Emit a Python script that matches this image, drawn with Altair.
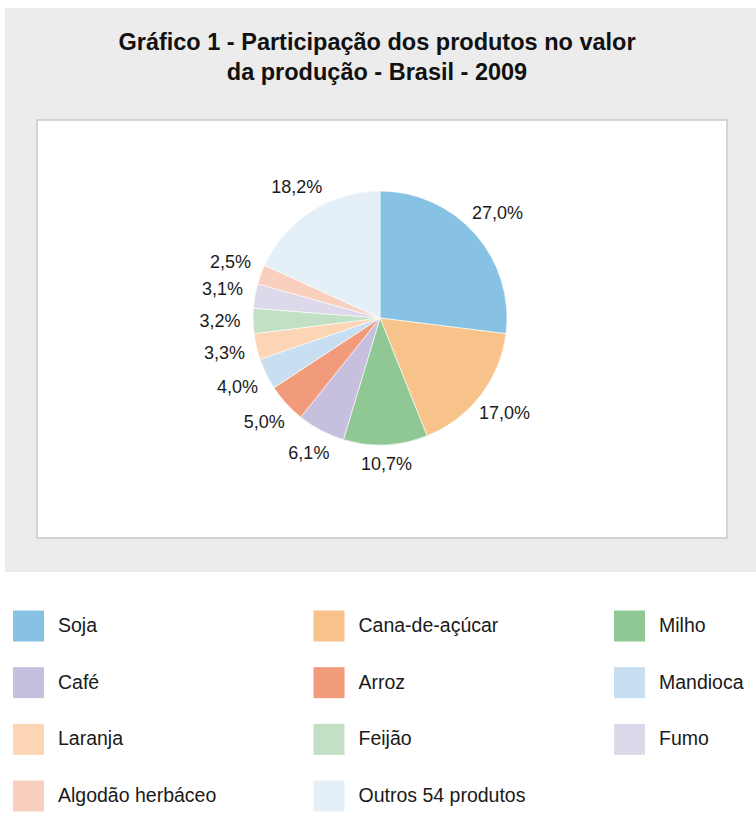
import altair as alt
import pandas as pd

# ---- data ----
produtos = ["Soja", "Cana-de-açúcar", "Milho", "Café", "Arroz", "Mandioca",
            "Laranja", "Feijão", "Fumo", "Algodão herbáceo", "Outros 54 produtos"]
valores = [27.0, 17.0, 10.7, 6.1, 5.0, 4.0, 3.3, 3.2, 3.1, 2.5, 18.2]
cores = ["#87C2E5", "#F8C38A", "#8FC795", "#C6BFDD", "#F29B7B", "#C8DFF2",
         "#FCD6B4", "#C2E0C5", "#DDD9EA", "#F9CFBD", "#E5EFF8"]
titulo = ["Gráfico 1 - Participação dos produtos no valor",
          "da produção - Brasil - 2009"]

rotulos = [f"{v:.1f}".replace(".", ",") + "%" for v in valores]
df = pd.DataFrame({
    "produto": produtos,
    "valor": valores,
    "rotulo": rotulos,
    "ordem": list(range(len(produtos))),
})
leg = pd.DataFrame({
    "produto": produtos,
    "col": [i % 3 for i in range(len(produtos))],
    "row": [i // 3 for i in range(len(produtos))],
})

color = alt.Color("produto:N", scale=alt.Scale(domain=produtos, range=cores), legend=None)

# ---- decoration ----
deco = pd.DataFrame({"k": [0]})
bg = alt.Chart(deco).mark_rect(color="#EBECEB").encode(
    x=alt.value(5), x2=alt.value(756), y=alt.value(8), y2=alt.value(572))
box = alt.Chart(deco).mark_rect(fill="white", stroke="#C9C9C9", strokeWidth=1.5).encode(
    x=alt.value(37), x2=alt.value(727), y=alt.value(120), y2=alt.value(538))
title = alt.Chart(deco).mark_text(
    font="Liberation Sans", fontWeight="bold", fontSize=23.5, lineHeight=30,
    align="center", baseline="alphabetic", color="#111111"
).encode(x=alt.value(377), y=alt.value(50), text=alt.value(titulo))

# ---- pie ----
pie = alt.Chart(df).mark_arc(radius=127, stroke="white", strokeWidth=0.6).encode(
    theta=alt.Theta("valor:Q", stack=True),
    order=alt.Order("ordem:Q", sort="ascending"),
    color=color, x=alt.value(380), y=alt.value(318))

labels = alt.Chart(df).transform_window(
    cum="sum(valor)", sort=[alt.SortField("ordem")], frame=[None, 0]
).transform_joinaggregate(
    total="sum(valor)"
).transform_calculate(
    ang="2*PI*(datum.cum - datum.valor/2)/datum.total",
    lr="147 + 13*abs(sin(datum.ang))",
).mark_text(
    font="Liberation Sans", fontSize=18, color="#1a1a1a", align="center", baseline="middle"
).encode(
    theta=alt.Theta("ang:Q", scale=None),
    radius=alt.Radius("lr:Q", scale=None),
    text="rotulo:N",
    x=alt.value(380), y=alt.value(318),
)

# ---- legend ----
xs = alt.Scale(domain=[0, 2], range=[28.5, 629.5])
ys = alt.Scale(domain=[0, 3], range=[626, 796])
lbase = alt.Chart(leg).encode(
    x=alt.X("col:Q", scale=xs, axis=None),
    y=alt.Y("row:Q", scale=ys, axis=None),
)
squares = lbase.mark_square(size=961, opacity=1).encode(color=color)
ltext = lbase.mark_text(
    font="Liberation Sans", fontSize=19.5, align="left", baseline="middle",
    dx=29.5, color="#1a1a1a"
).encode(text="produto:N")

chart = alt.layer(bg, box, title, pie, labels, squares, ltext).properties(
    width=756, height=818,
    autosize=alt.AutoSizeParams(type="none"),
    padding=0,
    background="white",
).configure_view(strokeWidth=0)

chart.save("out.html", embed_options={"renderer": "svg", "actions": False})
